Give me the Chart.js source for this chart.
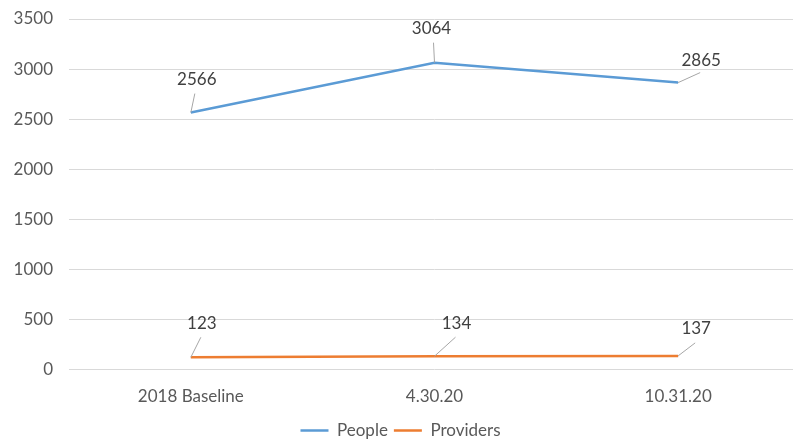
<!DOCTYPE html>
<html>
<head>
<meta charset="utf-8">
<script src="https://cdn.jsdelivr.net/npm/chart.js@4.4.1/dist/chart.umd.min.js"></script>
<style>
html,body{margin:0;padding:0;background:#fff;overflow:hidden;}
#wrap{position:relative;width:800px;height:449px;}
</style>
</head>
<body>
<div id="wrap"><canvas id="c"></canvas></div>
<script>
const categories = ["2018 Baseline", "4.30.20", "10.31.20"];
const peopleValues = [2566, 3064, 2865];
const providerValues = [123, 134, 137];
const seriesNames = ["People", "Providers"];
const yTicks = {min: 0, max: 3500, step: 500};

// label placement offsets (style only): [lineEndDx, lineEndDy, labelDx, labelDy]
const labelOffsets = [
  [[4,-19,6,-33],[-1,-20,-3,-34],[22,-10,23,-22]],
  [[10,-20,11,-34],[21,-19,22,-33],[17,-13,18,-27]]
];

const FONT = "Lato, 'Open Sans', sans-serif";

const labelPlugin = {
  id: 'leaderLabels',
  afterDatasetsDraw(chart) {
    const ctx = chart.ctx;
    ctx.save();
    chart.data.datasets.forEach((ds, di) => {
      const meta = chart.getDatasetMeta(di);
      meta.data.forEach((pt, i) => {
        const o = labelOffsets[di][i];
        ctx.strokeStyle = '#a6a6a6';
        ctx.lineWidth = 1;
        ctx.beginPath();
        ctx.moveTo(pt.x, pt.y);
        ctx.lineTo(pt.x + o[0], pt.y + o[1]);
        ctx.stroke();
        ctx.fillStyle = '#404040';
        ctx.font = "17px " + FONT;
        ctx.textAlign = 'center';
        ctx.textBaseline = 'middle';
        ctx.fillText(String(ds.data[i]), pt.x + o[2], pt.y + o[3]);
      });
    });
    ctx.restore();
  }
};

new Chart(document.getElementById('c'), {
  type: 'line',
  data: {
    labels: categories,
    datasets: [
      {label: seriesNames[0], data: peopleValues, borderColor: '#5B9BD5', backgroundColor: '#5B9BD5', borderWidth: 2.5, pointRadius: 0, pointStyle: 'line', tension: 0},
      {label: seriesNames[1], data: providerValues, borderColor: '#ED7D31', backgroundColor: '#ED7D31', borderWidth: 2.5, pointRadius: 0, pointStyle: 'line', tension: 0}
    ]
  },
  options: {
    responsive: true,
    maintainAspectRatio: false,
    animation: false,
    layout: {padding: {top: 19, right: 0, left: 1, bottom: 0}},
    plugins: {
      legend: {
        position: 'bottom',
        labels: {
          usePointStyle: true,
          pointStyleWidth: 28,
          color: '#595959',
          font: {family: FONT, size: 17},
          padding: 6
        }
      },
      tooltip: {enabled: false}
    },
    scales: {
      x: {
        offset: true,
        grid: {display: false},
        border: {display: false},
        ticks: {color: '#595959', font: {family: FONT, size: 17}, padding: 9}
      },
      y: {
        min: yTicks.min,
        max: yTicks.max,
        afterFit: (s) => { s.width = 68; s.paddingTop = 0; s.paddingBottom = 0; },
        ticks: {stepSize: yTicks.step, color: '#595959', font: {family: FONT, size: 17}, padding: 16,
          callback: (v) => String(v)},
        grid: {color: '#d9d9d9', drawTicks: false, lineWidth: 1},
        border: {display: false}
      }
    }
  },
  plugins: [labelPlugin]
});
</script>
</body>
</html>
